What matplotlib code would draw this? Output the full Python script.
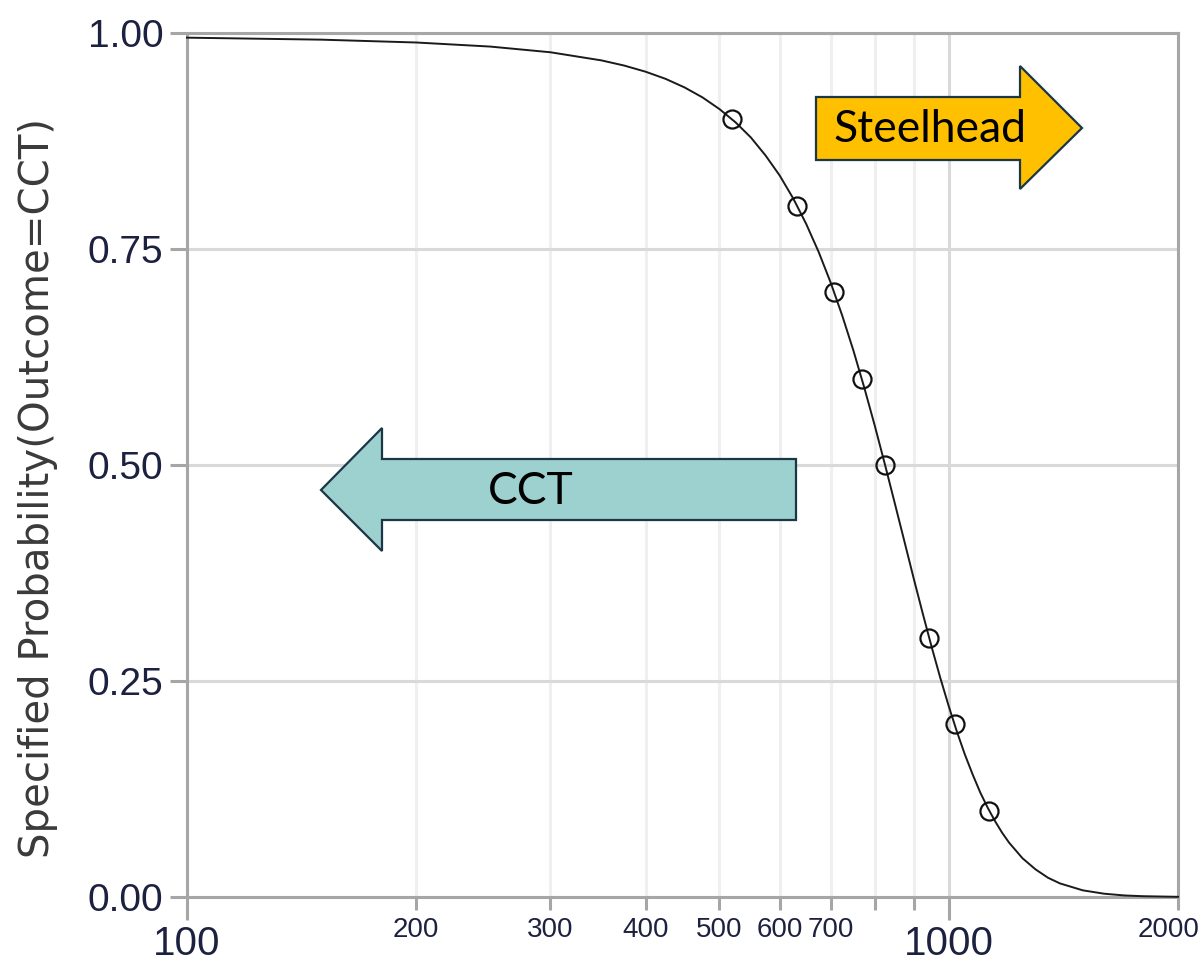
import matplotlib
matplotlib.use("Agg")
import matplotlib.pyplot as plt
from matplotlib.patches import Polygon
from matplotlib.ticker import FixedLocator, FixedFormatter
from matplotlib.transforms import ScaledTranslation

# fitted curve
curve_x = [100, 150, 200, 250, 300, 350, 375, 400, 425, 450, 475, 500, 525, 550,
           575, 600, 625, 650, 675, 700, 725, 750, 775, 800, 825, 850, 875, 900,
           925, 950, 975, 1000, 1025, 1050, 1075, 1100, 1125, 1150, 1175, 1200,
           1250, 1300, 1350, 1400, 1500, 1600, 1700, 1800, 2000]
curve_p = [0.9946, 0.9923, 0.989, 0.9843, 0.9777, 0.9683, 0.9623, 0.9552, 0.9469,
           0.937, 0.9255, 0.912, 0.8966, 0.879, 0.8581, 0.835, 0.8085, 0.779,
           0.7465, 0.711, 0.6726, 0.632, 0.5891, 0.545, 0.5, 0.455, 0.411, 0.368,
           0.3274, 0.289, 0.2535, 0.221, 0.1915, 0.165, 0.1419, 0.121, 0.1034,
           0.088, 0.0745, 0.063, 0.0448, 0.032, 0.0223, 0.0157, 0.0077, 0.0038,
           0.0018, 0.0009, 0.0002]

# specified probabilities (circles)
point_x = [519, 632, 707, 769, 825, 942, 1019, 1129]
point_p = [0.9, 0.8, 0.7, 0.6, 0.5, 0.3, 0.2, 0.1]

y_ticks = [0.0, 0.25, 0.5, 0.75, 1.0]
y_labels = ["0.00", "0.25", "0.50", "0.75", "1.00"]
x_major = [100, 1000]
x_major_labels = ["100", "1000"]
x_minor = [200, 300, 400, 500, 600, 700, 800, 900, 2000]
x_minor_labels = ["200", "300", "400", "500", "600", "700", "", "", "2000"]

W, H = 1202, 967
TICK_FONT = ["Liberation Sans", "DejaVu Sans"]
TICK_COLOR = "#1d2140"
GRAY = "#a6a6a6"

fig = plt.figure(figsize=(W / 100, H / 100), dpi=100)
ax = fig.add_axes([187 / W, 1 - 897 / H, (1178 - 187) / W, (897 - 33) / H])

ax.set_xscale("log")
ax.set_xlim(100, 2000)
ax.set_ylim(0, 1)

ax.plot(curve_x, curve_p, color="#1a1a1a", linewidth=1.4, zorder=3, clip_on=False)
ax.plot(point_x, point_p, linestyle="none", marker="o", markersize=13,
        markerfacecolor="none", markeredgecolor="#111111", markeredgewidth=1.6, zorder=4)

ax.xaxis.set_major_locator(FixedLocator(x_major))
ax.xaxis.set_major_formatter(FixedFormatter(x_major_labels))
ax.xaxis.set_minor_locator(FixedLocator(x_minor))
ax.xaxis.set_minor_formatter(FixedFormatter(x_minor_labels))
ax.set_yticks(y_ticks)
ax.set_yticklabels(y_labels)

ax.set_axisbelow(True)
ax.grid(axis="y", which="major", color="#d9d9d9", linewidth=2.2)
ax.grid(axis="x", which="major", color="#d9d9d9", linewidth=2.2)
ax.grid(axis="x", which="minor", color="#efefef", linewidth=2.2)

for s in ax.spines.values():
    s.set_color(GRAY)
    s.set_linewidth(2.2)

ax.tick_params(axis="y", which="major", length=12, width=2.2, color=GRAY, pad=5,
               labelsize=28, labelcolor=TICK_COLOR)
ax.tick_params(axis="x", which="major", length=16.5, width=2.2, color=GRAY, pad=4,
               labelsize=29, labelcolor=TICK_COLOR)
ax.tick_params(axis="x", which="minor", length=9.5, width=2.2, color=GRAY, pad=5,
               labelsize=20, labelcolor=TICK_COLOR)
for lab in ax.get_xticklabels(which="both") + ax.get_yticklabels():
    lab.set_family(TICK_FONT)

# keep the 2000 label inside the picture
last = ax.get_xticklabels(minor=True)[-1]
last.set_transform(last.get_transform() + ScaledTranslation(-0.09, 0, fig.dpi_scale_trans))

fig.text(38 / W, 1 - 488 / H, "Specified Probability(Outcome=CCT)", rotation=90,
         ha="center", va="center", fontsize=29, color="#3a3a3a", family="DejaVu Sans")


def px(points):
    return [(x / W, 1 - y / H) for x, y in points]


steelhead = [(816, 97), (1020, 97), (1020, 66), (1082, 128), (1020, 189),
             (1020, 160), (816, 160)]
cct = [(796, 459), (382, 459), (382, 428), (321, 490), (382, 551), (382, 520),
       (796, 520)]
fig.add_artist(Polygon(px(steelhead), closed=True, transform=fig.transFigure,
                       facecolor="#ffc000", edgecolor="#1b3644", linewidth=1.6, zorder=5))
fig.add_artist(Polygon(px(cct), closed=True, transform=fig.transFigure,
                       facecolor="#9dd1cf", edgecolor="#1b3644", linewidth=1.6, zorder=5))
fig.text(930 / W, 1 - 130 / H, "Steelhead", ha="center", va="center", fontsize=32,
         family="Lato", color="black", zorder=6)
fig.text(531 / W, 1 - 491 / H, "CCT", ha="center", va="center", fontsize=32,
         family="Lato", color="black", zorder=6)

fig.savefig("out.png", dpi=100)
